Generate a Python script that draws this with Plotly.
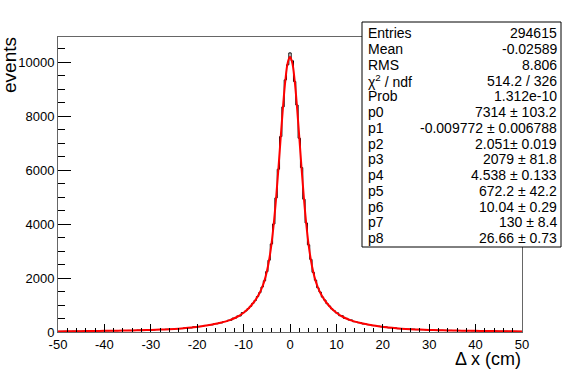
import plotly.graph_objects as go

# fit curve (red)
fit_x = [-50, -48, -46, -44, -42, -40, -38, -36, -34, -32, -30, -28, -26, -24, -22, -20,
         -19, -18, -17, -16, -15, -14, -13, -12, -11, -10, -9.5, -9, -8.5, -8, -7.5, -7,
         -6.5, -6, -5.5, -5, -4.5, -4, -3.5, -3, -2.5, -2, -1.5, -1, -0.5, 0,
         0.5, 1, 1.5, 2, 2.5, 3, 3.5, 4, 4.5, 5, 5.5, 6, 6.5, 7, 7.5, 8, 8.5, 9, 9.5, 10,
         11, 12, 13, 14, 15, 16, 17, 18, 19, 20, 22, 24, 26, 28, 30, 32, 34, 36, 38, 40,
         42, 44, 46, 48, 50]
fit_y = [22, 26, 29, 33, 38, 42, 48, 53, 60, 68, 77, 89, 104, 125, 153, 191,
         213, 239, 268, 302, 340, 385, 440, 510, 598, 714, 784, 864, 955, 1057, 1173, 1307,
         1465, 1658, 1904, 2229, 2667, 3251, 4011, 4952, 6047, 7222, 8360, 9322, 9968, 10195,
         9968, 9322, 8360, 7222, 6047, 4952, 4011, 3251, 2667, 2229, 1904, 1658, 1465, 1307,
         1173, 1057, 955, 864, 784, 714,
         598, 510, 440, 385, 340, 302, 268, 239, 213, 191, 153, 125, 104, 89, 77, 68, 60, 53, 48, 42,
         38, 33, 29, 26, 22]

# histogram (black), bin contents
hist_x = fit_x
hist_y = [24, 25, 31, 34, 37, 43, 47, 55, 59, 69, 75, 90, 102, 127, 151, 193,
          211, 242, 265, 305, 337, 389, 436, 514, 594, 718, 780, 869, 950, 1062, 1168, 1312,
          1458, 1665, 1897, 2236, 2660, 3262, 4003, 4968, 6031, 7240, 8342, 9341, 9900, 10340,
          10050, 9280, 8410, 7180, 6090, 4920, 4040, 3230, 2690, 2210, 1920, 1640, 1480, 1295,
          1185, 1048, 962, 858, 790, 709,
          603, 505, 446, 381, 344, 298, 271, 236, 216, 189, 155, 123, 106, 87, 78, 66, 61, 52, 49, 41,
          39, 32, 30, 25, 23]

x_ticks = [-50, -40, -30, -20, -10, 0, 10, 20, 30, 40, 50]
x_ticklabels = ['-50', '-40', '-30', '-20', '-10', '0', '10', '20', '30', '40', '50']

stat_names = ['Entries', 'Mean', 'RMS', 'χ<sup>2</sup> / ndf', 'Prob',
              'p0', 'p1', 'p2', 'p3', 'p4', 'p5', 'p6', 'p7', 'p8']
stat_values = ['294615', '-0.02589', '8.806', '514.2 / 326', '1.312e-10',
               '7314 ± 103.2', '-0.009772 ± 0.006788', '2.051± 0.019', '2079 ± 81.8',
               '4.538 ± 0.133', '672.2 ± 42.2', '10.04 ± 0.29', '130 ± 8.4', '26.66 ± 0.73']

W, H = 581, 371
L, R, T, B = 58, 59, 37, 39
pw, ph = W - L - R, H - T - B


def px(x):
    return (x - L) / pw


def py(y):
    return (H - B - y) / ph


fig = go.Figure()
fig.add_trace(go.Scatter(x=hist_x, y=hist_y, mode='lines', line=dict(color='black', width=1, shape='hvh'),
                         hoverinfo='skip'))
fig.add_trace(go.Scatter(x=fit_x, y=fit_y, mode='lines', line=dict(color='#ff0000', width=2, shape='spline'),
                         hoverinfo='skip'))

font = 'Liberation Sans, Arial, sans-serif'

fig.update_layout(
    width=W, height=H,
    margin=dict(l=L, r=R, t=T, b=B),
    paper_bgcolor='white', plot_bgcolor='white',
    showlegend=False,
    font=dict(family=font, size=13, color='black'),
    xaxis=dict(range=[-50, 50], tickmode='array', tickvals=x_ticks, ticktext=x_ticklabels,
               ticks='inside', ticklen=8, tickcolor='black', showgrid=False, zeroline=False,
               showline=True, linecolor='#666', linewidth=1, mirror=True,
               minor=dict(dtick=2, tick0=-50, ticks='inside', ticklen=4, tickcolor='black', showgrid=False)),
    yaxis=dict(range=[0, 10930], tickmode='linear', tick0=0, dtick=2000, tickformat='d',
               ticks='inside', ticklen=13, tickcolor='black', showgrid=False, zeroline=False,
               showline=True, linecolor='#666', linewidth=1, mirror=True,
               minor=dict(dtick=500, ticks='inside', ticklen=7, tickcolor='black', showgrid=False)),
)

# axis titles
fig.add_annotation(text='events', xref='paper', yref='paper', x=px(9), y=py(35),
                   xanchor='center', yanchor='top', textangle=-90, showarrow=False,
                   font=dict(size=19))
fig.add_annotation(text='Δ x (cm)', xref='paper', yref='paper', x=px(523), y=py(359),
                   xanchor='right', yanchor='middle', showarrow=False, font=dict(size=18))

# stats box
fig.add_shape(type='rect', xref='paper', yref='paper', x0=px(362), x1=px(561), y0=py(22), y1=py(247),
              fillcolor='white', line=dict(color='black', width=1))
for i, (n, v) in enumerate(zip(stat_names, stat_values)):
    yy = py(33.3 + i * 15.75)
    fig.add_annotation(text=n, xref='paper', yref='paper', x=px(366), y=yy,
                       xanchor='left', yanchor='middle', showarrow=False, font=dict(size=14))
    fig.add_annotation(text=v, xref='paper', yref='paper', x=px(559), y=yy,
                       xanchor='right', yanchor='middle', showarrow=False, font=dict(size=14))

fig.write_html('out.html', config={'displayModeBar': False},
               post_script="document.body.style.margin='0';")
